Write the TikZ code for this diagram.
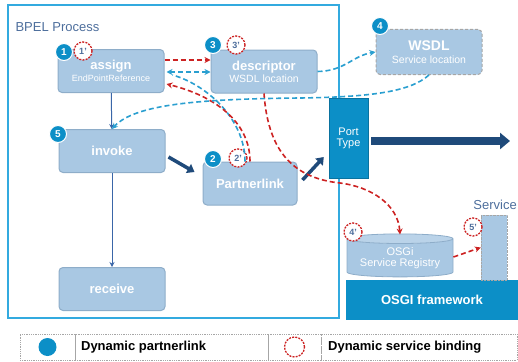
\documentclass[tikz,border=0pt]{standalone}
\usepackage{fontspec}
\setmainfont{Liberation Sans}
\usetikzlibrary{arrows.meta,shapes.geometric}

\definecolor{actfill}{HTML}{A9C8E3}
\definecolor{actline}{HTML}{8EADC9}
\definecolor{portblue}{HTML}{0C8FC7}
\definecolor{navy}{HTML}{1F4A7A}
\definecolor{bpelline}{HTML}{33AADF}
\definecolor{bindred}{HTML}{CC2222}
\definecolor{flowcyan}{HTML}{2A9FD0}
\definecolor{labelblue}{HTML}{4D6E9C}
\definecolor{seqblue}{HTML}{3A66A8}

\newcommand{\fsz}[1]{\fontsize{#1}{#1}\selectfont}
\newcommand{\subtxt}[1]{\mdseries\fsz{#1}}

\begin{document}
\begin{tikzpicture}[x=1pt,y=-1pt,
    act/.style={draw=actline,fill=actfill,rounded corners=4pt,line width=1pt,
      minimum width=106pt,minimum height=43pt,align=center,text=white,
      font=\bfseries\fsz{13}},
    num/.style={circle,fill=portblue,draw=white,line width=1pt,inner sep=0pt,
      minimum size=17pt,text=white,font=\bfseries\fsz{10}},
    bind/.style={circle,draw=bindred,dash pattern=on 2pt off 1.2pt,line width=1.3pt,
      fill=white,inner sep=0pt,minimum width=16pt,minimum height=18pt,
      text=labelblue,font=\bfseries\fsz{9}},
    redflow/.style={draw=bindred,dash pattern=on 5pt off 3pt,line width=1.6pt,
      -{Stealth[length=6pt,width=6pt]}},
    cyanflow/.style={draw=flowcyan,dash pattern=on 5pt off 3pt,line width=1.6pt,
      -{Stealth[length=6pt,width=6pt]}},
    seq/.style={draw=seqblue,line width=1pt,-{Stealth[length=5pt,width=5pt]}},
    call/.style={draw=navy,line width=3.5pt,-{Triangle[length=7pt,width=10pt]}},
    cell/.style={draw=gray!70,densely dotted,line width=0.8pt,minimum height=26pt,inner sep=0pt},
  ]
  \useasboundingbox (0,0) rectangle (518,361);

  % process frame
  \node[draw=bpelline,line width=1.5pt,minimum width=331pt,minimum height=313pt,inner sep=0pt]
    (bpel) at (173.5,161.5) {};
  \node[anchor=west,text=labelblue,font=\fsz{13}] (title) at (12,27) {BPEL Process};

  % activities
  \node[act] (assign) at (111,71) {assign\\[-1pt]{\subtxt{9}EndPointReference}};
  \node[act] (descriptor) at (264,71.5) {descriptor\\[-1pt]{\subtxt{10.5}WSDL location}};
  \node[act,draw=gray!70,densely dashed,minimum height=45pt,font=\bfseries\fsz{14}]
    (wsdl) at (429,52) {WSDL\\[-1pt]{\subtxt{10.5}Service location}};
  \node[act] (invoke) at (112,151) {invoke};
  \node[act,minimum width=94pt] (partnerlink) at (250,183.5) {Partnerlink};
  \node[act] (receive) at (112,289) {receive};

  % OSGi side
  \node[fill=portblue,draw=portblue!80!black,minimum width=39pt,minimum height=80pt,
    align=center,text=white,font=\fsz{11}] (porttype) at (348.5,138) {Port\\Type};
  \coordinate (out) at (510,141);
  \node[fill=portblue,minimum width=172pt,minimum height=40pt,text=white,
    font=\bfseries\fsz{13}] (framework) at (432,300) {OSGI framework};
  \node[cylinder,shape border rotate=90,aspect=0.12,draw=actline,line width=0.8pt,
    cylinder uses custom fill,cylinder body fill=actfill,cylinder end fill=actfill!80!white,
    minimum width=106pt,minimum height=43pt,inner sep=0pt,align=center,text=white,
    font=\fsz{11}] (registry) at (400,258) {OSGi\\Service Registry};
  \node[fill=actfill,draw=gray!70,densely dotted,minimum width=26pt,minimum height=65pt]
    (service) at (494,247.5) {};
  \node[anchor=east,text=labelblue,font=\fsz{13},inner sep=1pt] (servicelabel) at (518,205) {Service};

  % badges
  \node[num] (n1) at (64,52) {1};
  \node[bind] (b1) at (83,51) {1'};
  \node[num] (n3) at (213,45) {3};
  \node[bind] (b3) at (236,45) {3'};
  \node[num] (n4) at (380,26) {4};
  \node[num] (n5) at (58,134) {5};
  \node[num] (n2) at (213,159) {2};
  \node[bind] (b2) at (238,158) {2'};
  \node[bind] (b4) at (353,232) {4'};
  \node[bind] (b5) at (473,227) {5'};

  % control flow
  \draw[seq] (assign) -- (invoke);
  \draw[seq] (invoke) -- (receive);
  \draw[call] ([xshift=3pt,yshift=-6pt]invoke.east) -- ([xshift=-8pt,yshift=11.5pt]partnerlink.west);
  \draw[call] ([xshift=5pt,yshift=3.5pt]partnerlink.east) -- ([xshift=-5pt,yshift=-19pt]porttype.west);
  \draw[call,line width=8pt,-{Triangle[length=10pt,width=16pt]}]
    ([xshift=3pt,yshift=-3pt]porttype.east) -- (out);

  % binding steps
  \draw[redflow] ([yshift=11pt]assign.east) -- ([yshift=11.5pt]descriptor.west);
  \draw[cyanflow,{Stealth[length=6pt,width=6pt]}-{Stealth[length=6pt,width=6pt]}]
    ([xshift=2pt,yshift=-1pt]assign.east) -- ([yshift=-0.5pt]descriptor.west);
  \draw[cyanflow,-] ([xshift=-5pt]partnerlink.north) .. controls (245,118) and (205,84) .. ([xshift=8pt,yshift=-4pt]assign.east);
  \draw[redflow] (partnerlink.north) .. controls (250,122) and (215,96) .. ([xshift=2pt,yshift=-13pt]assign.east);
  \draw[redflow] ([yshift=0pt]descriptor.south) .. controls (268,150) and (292,178) .. (340,183)
    .. controls (372,187) and (398,205) .. ([yshift=-1pt]registry.north);
  \draw[redflow] ([yshift=1pt]registry.east) -- (service.west);
  \draw[cyanflow] (descriptor.east) .. controls (345,71) and (352,56) .. (wsdl.west);
  \draw[cyanflow] (wsdl.south) .. controls (410,92) and (370,97) .. (300,98)
    .. controls (200,99) and (135,104) .. (invoke.north);

  % legend
  \node[cell,minimum width=55pt] (k1) at (47.5,347) {};
  \node[cell,minimum width=193pt] (k2) at (171.5,347) {};
  \node[cell,minimum width=53pt] (k3) at (294.5,347) {};
  \node[cell,minimum width=196pt] (k4) at (419,347) {};
  \node[circle,fill=portblue,minimum size=18pt,inner sep=0pt] (dot) at (k1) {};
  \node[bind,minimum width=17pt,minimum height=20pt] (ring) at (k3) {};
  \node[anchor=west,font=\bfseries\fsz{13}] (t1) at ([xshift=3pt]k2.west) {Dynamic partnerlink};
  \node[anchor=west,font=\bfseries\fsz{13}] (t2) at ([xshift=4pt]k4.west) {Dynamic service binding};
\end{tikzpicture}
\end{document}
